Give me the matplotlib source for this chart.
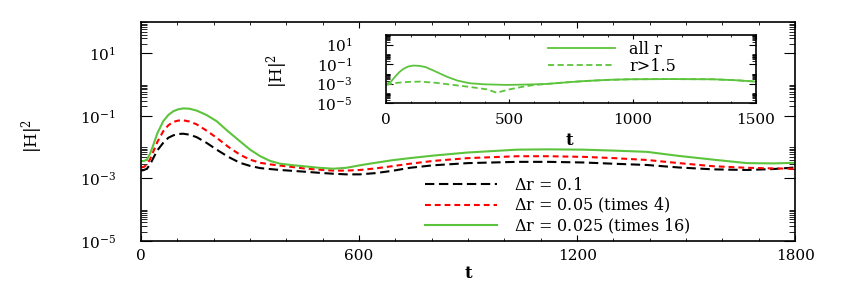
import numpy as np
import matplotlib
matplotlib.use("Agg")
import matplotlib.pyplot as plt
from matplotlib.ticker import FixedLocator, MultipleLocator, NullFormatter, LogFormatterSciNotation

plt.rcParams['font.family'] = ['DejaVu Serif']
plt.rcParams['mathtext.fontset'] = 'dejavuserif'

# main panel, log10(|H|^2)
t_main = [0, 8, 16, 25, 34, 45, 61, 75, 89, 102, 116, 133, 153, 180, 208, 240, 272, 300, 328, 355, 383,
          420, 456, 490, 529, 565, 602, 645, 690, 740, 804, 900, 1035, 1120, 1217, 1300, 1392, 1480,
          1575, 1667, 1740, 1800]
lg_dr01 = [-2.75, -2.73, -2.69, -2.55, -2.34, -2.10, -1.86, -1.70, -1.62, -1.58, -1.57, -1.60, -1.68, -1.86,
           -2.08, -2.31, -2.50, -2.60, -2.67, -2.70, -2.73, -2.76, -2.79, -2.82, -2.85, -2.87, -2.87, -2.83,
           -2.76, -2.66, -2.58, -2.51, -2.47, -2.47, -2.49, -2.53, -2.57, -2.65, -2.71, -2.73, -2.70, -2.65]
lg_dr005 = [-2.65, -2.63, -2.56, -2.38, -2.13, -1.83, -1.49, -1.30, -1.19, -1.15, -1.14, -1.18, -1.27, -1.47,
            -1.70, -1.99, -2.24, -2.40, -2.50, -2.55, -2.59, -2.64, -2.69, -2.72, -2.75, -2.75, -2.73, -2.68,
            -2.61, -2.53, -2.44, -2.35, -2.29, -2.29, -2.31, -2.35, -2.41, -2.51, -2.61, -2.66, -2.68, -2.69]
lg_dr0025 = [-2.45, -2.44, -2.40, -2.20, -1.92, -1.55, -1.17, -0.97, -0.85, -0.79, -0.76, -0.77, -0.83, -0.97,
             -1.17, -1.50, -1.81, -2.08, -2.29, -2.44, -2.53, -2.58, -2.62, -2.66, -2.69, -2.66, -2.58, -2.50,
             -2.42, -2.35, -2.27, -2.17, -2.08, -2.07, -2.08, -2.11, -2.15, -2.28, -2.40, -2.51, -2.52, -2.50]
labels_main = [r'$\Delta$r = 0.1', r'$\Delta$r = 0.05 (times 4)', r'$\Delta$r = 0.025 (times 16)']

# inset
t_all = [0, 20, 40, 55, 70, 90, 111, 135, 160, 200, 246, 290, 340, 400, 489, 570, 651, 720, 800, 900,
         989, 1150, 1327, 1420, 1500]
lg_all = [-3.07, -2.8, -2.2, -1.8, -1.5, -1.25, -1.15, -1.18, -1.3, -1.75, -2.29, -2.7, -2.97, -3.08, -3.14,
          -3.1, -3.04, -2.9, -2.75, -2.62, -2.56, -2.54, -2.56, -2.66, -2.80]
t_out = [0, 35, 69, 100, 138, 200, 272, 340, 408, 449, 500, 556, 600, 651, 720, 800, 900, 989, 1150, 1327,
         1420, 1500]
lg_out = [-3.14, -2.95, -2.87, -2.82, -2.80, -2.92, -3.14, -3.35, -3.59, -3.94, -3.6, -3.32, -3.15, -3.04,
          -2.9, -2.75, -2.62, -2.56, -2.54, -2.56, -2.66, -2.80]

green = '#5cc43c'

fig = plt.figure(figsize=(8.55, 2.91), dpi=100)
ax = fig.add_axes([0.165, 0.172, 0.765, 0.752])

ax.plot(t_main, 10 ** np.array(lg_dr01), color='black', lw=1.5, dashes=(4.5, 2.2), label=labels_main[0])
ax.plot(t_main, 10 ** np.array(lg_dr005), color='red', lw=1.5, dashes=(2.8, 1.9), label=labels_main[1])
ax.plot(t_main, 10 ** np.array(lg_dr0025), color=green, lw=1.5, label=labels_main[2])

ax.set_yscale('log')
ax.set_xlim(0, 1800)
ax.set_ylim(1e-5, 1e2)
ax.xaxis.set_major_locator(FixedLocator([0, 600, 1200, 1800]))
ax.xaxis.set_minor_locator(MultipleLocator(100))
ax.yaxis.set_major_locator(FixedLocator([1e-5, 1e-3, 1e-1, 1e1]))
ax.yaxis.set_major_formatter(LogFormatterSciNotation())
minor_y = [k * 10.0**e for e in (-5, -3, -1, 1) for k in range(2, 11)]
ax.yaxis.set_minor_locator(FixedLocator(minor_y))
ax.yaxis.set_minor_formatter(NullFormatter())
ax.tick_params(which='both', direction='in', top=True, right=True, labelsize=11)
ax.tick_params(axis='x', which='major', length=4.5, pad=6)
ax.tick_params(axis='x', which='minor', length=2.2)
ax.tick_params(axis='y', which='major', length=8, pad=18)
ax.tick_params(axis='y', which='minor', length=4)
for s in ax.spines.values():
    s.set_linewidth(1.2)

ax.set_xlabel('t', fontsize=12, fontweight='bold')
ax.xaxis.set_label_coords(0.5, -0.11)
ax.set_ylabel(r'$|\mathrm{H}|^2$', fontsize=12)
ax.yaxis.set_label_coords(-0.147, 0.48)

ax.legend(loc='upper left', bbox_to_anchor=(425 / 855, 1 - 177 / 291), bbox_transform=fig.transFigure,
          frameon=False, fontsize=11.5, handlelength=4.5, handletextpad=1.1, labelspacing=0.1, borderpad=0,
          borderaxespad=0)

# inset
axi = fig.add_axes([0.4515, 0.646, 0.4325, 0.234])
axi.plot(t_all, 10 ** np.array(lg_all), color=green, lw=1.3, label='all r')
axi.plot(t_out, 10 ** np.array(lg_out), color=green, lw=1.3, dashes=(3.4, 1.9), label='r>1.5')
axi.set_yscale('log')
axi.set_xlim(0, 1500)
axi.set_ylim(1e-5, 1e2)
axi.xaxis.set_major_locator(FixedLocator([0, 500, 1000, 1500]))
axi.xaxis.set_minor_locator(MultipleLocator(100))
axi.yaxis.set_major_locator(FixedLocator([1e-5, 1e-3, 1e-1, 1e1]))
axi.yaxis.set_major_formatter(LogFormatterSciNotation())
axi.yaxis.set_minor_locator(FixedLocator(minor_y))
axi.yaxis.set_minor_formatter(NullFormatter())
axi.tick_params(which='both', direction='in', top=True, right=True, labelsize=11)
axi.tick_params(axis='x', which='major', length=3, pad=7)
axi.tick_params(axis='x', which='minor', length=1.5)
axi.tick_params(axis='y', which='major', length=5, pad=24)
axi.tick_params(axis='y', which='minor', length=3)
for s in axi.spines.values():
    s.set_linewidth(1.2)
axi.set_xlabel('t', fontsize=12, fontweight='bold')
axi.xaxis.set_label_coords(0.497, -0.43)
axi.set_ylabel(r'$|\mathrm{H}|^2$', fontsize=12)
axi.yaxis.set_label_coords(-0.26, 0.47)
axi.legend(loc='upper left', bbox_to_anchor=(548 / 855, 1 - 41 / 291), bbox_transform=fig.transFigure,
           frameon=False, fontsize=11.5, handlelength=4.2, handletextpad=0.9, labelspacing=0.0, borderpad=0,
           borderaxespad=0)

fig.savefig('out.png', dpi=100)
